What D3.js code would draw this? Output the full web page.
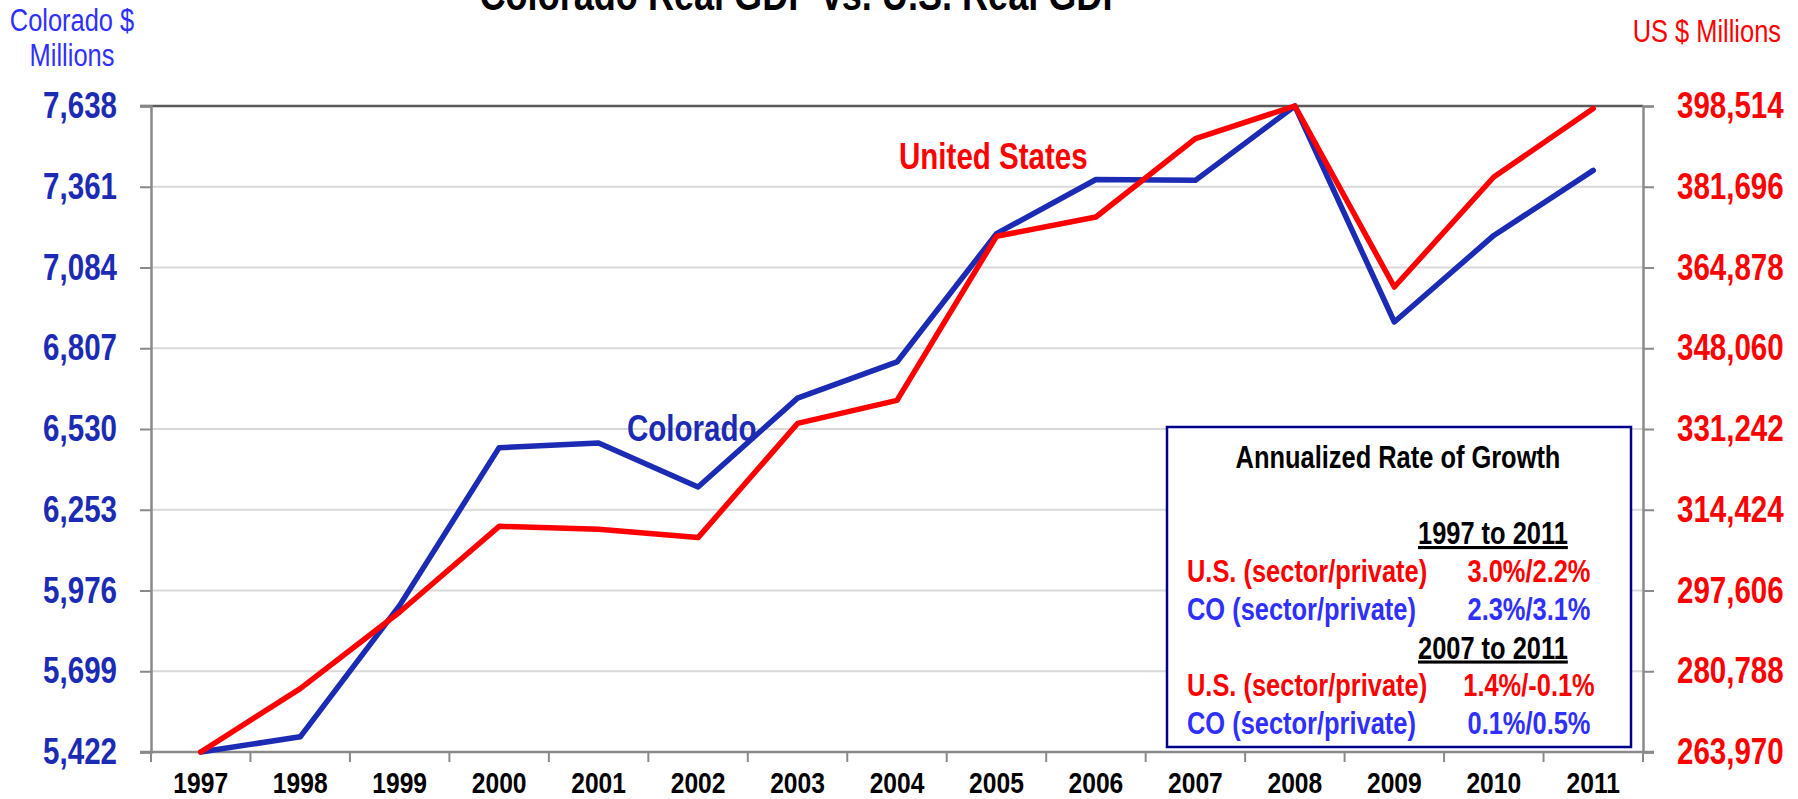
<!DOCTYPE html>
<html>
<head>
<meta charset="utf-8">
<script src="https://cdn.jsdelivr.net/npm/d3@7"></script>
<style>
  body { margin: 0; background: #fff; }
  svg { display: block; font-family: "Liberation Sans", Arial, sans-serif; }
</style>
</head>
<body>
<div id="chart"></div>
<script>
const width = 1798;
const height = 799;

// data
const years = ["1997", "1998", "1999", "2000", "2001", "2002", "2003", "2004",
  "2005", "2006", "2007", "2008", "2009", "2010", "2011"];
const coloradoGdp = [5422, 5474, 5925, 6466, 6482, 6331, 6636, 6760, 7200, 7386, 7383, 7638, 6897, 7194, 7417];
const usGdp = [263970, 277175, 293129, 310977, 310353, 308621, 332400, 337217, 371374, 375396, 391724, 398514, 360817, 383727, 397973];

const leftTicks = [5422, 5699, 5976, 6253, 6530, 6807, 7084, 7361, 7638];
const rightTicks = [263970, 280788, 297606, 314424, 331242, 348060, 364878, 381696, 398514];

const growthRows = [
  { label: "U.S. (sector/private)", value: "3.0%/2.2%", who: "us" },
  { label: "CO (sector/private)", value: "2.3%/3.1%", who: "co" },
  { label: "U.S. (sector/private)", value: "1.4%/-0.1%", who: "us" },
  { label: "CO (sector/private)", value: "0.1%/0.5%", who: "co" }
];
const growthPeriods = ["1997 to 2011", "2007 to 2011"];

const red = "#ff0000";
const darkBlue = "#1c2bb4";
const lightBlue = "#2f2fff";

const plot = { left: 151, right: 1643, top: 106, bottom: 752 };

const svg = d3.select("#chart")
  .append("svg")
  .attr("width", width)
  .attr("height", height);

const x = d3.scaleBand()
  .domain(years)
  .range([plot.left, plot.right]);

const yLeft = d3.scaleLinear()
  .domain([5422, 7638])
  .range([plot.bottom, plot.top]);

const yRight = d3.scaleLinear()
  .domain([263970, 398514])
  .range([plot.bottom, plot.top]);

// gridlines
svg.append("g")
  .selectAll("line")
  .data(leftTicks.slice(1, -1))
  .join("line")
  .attr("x1", plot.left)
  .attr("x2", plot.right)
  .attr("y1", d => yLeft(d))
  .attr("y2", d => yLeft(d))
  .attr("stroke", "#d9d9d9")
  .attr("stroke-width", 2);

// top border
svg.append("line")
  .attr("x1", plot.left - 11)
  .attr("x2", plot.right)
  .attr("y1", yLeft(7638))
  .attr("y2", yLeft(7638))
  .attr("stroke", "#595959")
  .attr("stroke-width", 2.5);

// left axis
const leftAxis = svg.append("g")
  .attr("transform", `translate(${plot.left},0)`)
  .call(d3.axisLeft(yLeft).tickValues(leftTicks).tickFormat(d3.format(",")).tickSize(11).tickPadding(23));

leftAxis.select(".domain").attr("stroke", "#8a8a8a").attr("stroke-width", 2.5);
leftAxis.selectAll(".tick line").attr("stroke", "#8a8a8a").attr("stroke-width", 2);
leftAxis.selectAll("text")
  .attr("fill", darkBlue)
  .style("font-size", "36px")
  .style("font-weight", "bold");

// right axis
const rightAxis = svg.append("g")
  .attr("transform", `translate(${plot.right},0)`)
  .call(d3.axisRight(yRight).tickValues(rightTicks).tickFormat(d3.format(",")).tickSize(11).tickPadding(23));

rightAxis.select(".domain").attr("stroke", "#8a8a8a").attr("stroke-width", 2.5);
rightAxis.selectAll(".tick line").attr("stroke", "#8a8a8a").attr("stroke-width", 2);
rightAxis.selectAll("text")
  .attr("fill", red)
  .style("font-size", "36px")
  .style("font-weight", "bold");

// bottom axis: labels at band centres, ticks at band edges
const bottomAxis = svg.append("g")
  .attr("transform", `translate(0,${plot.bottom})`)
  .call(d3.axisBottom(x).tickSize(0).tickPadding(20));

bottomAxis.select(".domain").remove();
bottomAxis.selectAll("text")
  .attr("fill", "#000")
  .style("font-size", "30px")
  .style("font-weight", "bold");

svg.append("line")
  .attr("x1", plot.left - 11)
  .attr("x2", plot.right + 11)
  .attr("y1", plot.bottom)
  .attr("y2", plot.bottom)
  .attr("stroke", "#8a8a8a")
  .attr("stroke-width", 2.5);

svg.append("g")
  .selectAll("line")
  .data(years.map(d => x(d)).concat([x.range()[1]]))
  .join("line")
  .attr("x1", d => d)
  .attr("x2", d => d)
  .attr("y1", plot.bottom)
  .attr("y2", plot.bottom + 10)
  .attr("stroke", "#8a8a8a")
  .attr("stroke-width", 2);

// axis titles
svg.append("text")
  .attr("x", 72)
  .attr("text-anchor", "middle")
  .attr("fill", lightBlue)
  .style("font-size", "31px")
  .selectAll("tspan")
  .data(["Colorado $", "Millions"])
  .join("tspan")
  .attr("x", 72)
  .attr("y", (d, i) => 31 + i * 35)
  .text(d => d);

svg.append("text")
  .attr("x", 1781)
  .attr("y", 42)
  .attr("text-anchor", "end")
  .attr("fill", red)
  .style("font-size", "31px")
  .text("US $ Millions");

// title (sits mostly above the top edge, as in the original)
svg.append("text")
  .attr("x", 803)
  .attr("y", 10)
  .attr("text-anchor", "middle")
  .attr("fill", "#000")
  .style("font-size", "44px")
  .style("font-weight", "bold")
  .text("Colorado Real GDP vs. U.S. Real GDP");

// legend box
const box = svg.append("g");

box.append("rect")
  .attr("x", 1167)
  .attr("y", 427)
  .attr("width", 464)
  .attr("height", 320)
  .attr("fill", "#fff")
  .attr("stroke", "#00008b")
  .attr("stroke-width", 2.5);

box.append("text")
  .attr("x", 1398)
  .attr("y", 468)
  .attr("text-anchor", "middle")
  .attr("fill", "#000")
  .style("font-size", "31px")
  .style("font-weight", "bold")
  .text("Annualized Rate of Growth");

growthPeriods.forEach((p, i) => {
  box.append("text")
    .attr("x", 1418)
    .attr("y", 544 + i * 114.5)
    .attr("fill", "#000")
    .style("font-size", "31px")
    .style("font-weight", "bold")
    .style("text-decoration", "underline")
    .text(p);
});

growthRows.forEach((r, i) => {
  const yy = 582 + i * 38 + (i >= 2 ? 38 : 0);
  const c = r.who === "us" ? red : lightBlue;
  box.append("text")
    .attr("x", 1187)
    .attr("y", yy)
    .attr("fill", c)
    .style("font-size", "31px")
    .style("font-weight", "bold")
    .text(r.label);
  box.append("text")
    .attr("x", 1529)
    .attr("y", yy)
    .attr("text-anchor", "middle")
    .attr("fill", c)
    .style("font-size", "31px")
    .style("font-weight", "bold")
    .text(r.value);
});

// lines
const cx = d => x(d) + x.bandwidth() / 2;

const coLine = d3.line()
  .x((d, i) => cx(years[i]))
  .y(d => yLeft(d));

const usLine = d3.line()
  .x((d, i) => cx(years[i]))
  .y(d => yRight(d));

svg.append("path")
  .datum(coloradoGdp)
  .attr("d", coLine)
  .attr("fill", "none")
  .attr("stroke", darkBlue)
  .attr("stroke-width", 5.5)
  .attr("stroke-linejoin", "round")
  .attr("stroke-linecap", "round");

svg.append("path")
  .datum(usGdp)
  .attr("d", usLine)
  .attr("fill", "none")
  .attr("stroke", red)
  .attr("stroke-width", 5.5)
  .attr("stroke-linejoin", "round")
  .attr("stroke-linecap", "round");

// series labels
svg.append("text")
  .attr("x", 627)
  .attr("y", 441)
  .attr("fill", darkBlue)
  .style("font-size", "36px")
  .style("font-weight", "bold")
  .text("Colorado");

svg.append("text")
  .attr("x", 899)
  .attr("y", 169)
  .attr("fill", red)
  .style("font-size", "36px")
  .style("font-weight", "bold")
  .text("United States");

// no narrow font installed: squeeze every text to ~82% width (Arial Narrow look)
svg.selectAll("text").each(function () {
  const spans = d3.select(this).selectAll("tspan");
  const nodes = spans.empty() ? [this] : spans.nodes();
  nodes.forEach(n => {
    const len = n.getComputedTextLength();
    d3.select(n)
      .attr("textLength", len * 0.82)
      .attr("lengthAdjust", "spacingAndGlyphs");
  });
});
</script>
</body>
</html>
